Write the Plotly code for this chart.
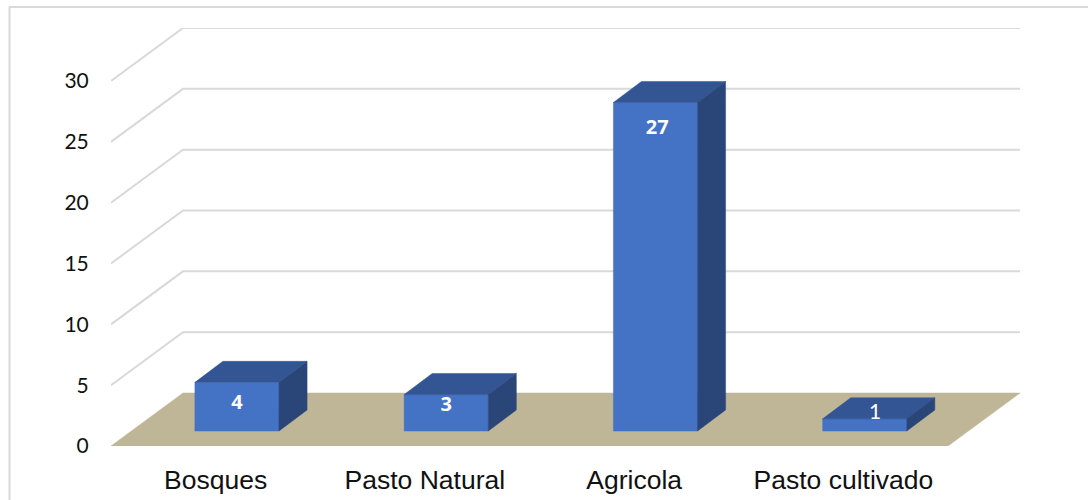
import plotly.graph_objects as go

categories = ["Bosques", "Pasto Natural", "Agricola", "Pasto cultivado"]
values = [4, 3, 27, 1]
y_ticks = [0, 5, 10, 15, 20, 25, 30]
label_bold = [True, True, True, False]
label_drop = [1.8, 0.95, 2.15, -0.45]   # label centre below bar top, in value units
label_shift = [0.0, 0.0, 0.008, 0.05]   # label centre right of bar centre, in category units

# pseudo-3D projection, in axis units
WALL_DX, WALL_DY = 0.344, 4.355
BAR_W = 0.402
BAR_DX, BAR_DY = 0.134, 1.73
BAR_SHIFT, BAR_LIFT = 0.102, 1.23

FRONT, TOP, SIDE = "#4472c4", "#335593", "#2a4679"
GRID, FLOOR = "#d9d9d9", "#bfb698"

fig = go.Figure()


def poly(xs, ys, color):
    fig.add_trace(go.Scatter(x=xs, y=ys, mode="lines", fill="toself", fillcolor=color,
                             line=dict(color=color, width=0.5), hoverinfo="skip", showlegend=False))


n = len(categories)
x0, x1 = -0.5, n - 0.5
poly([x0, x1, x1 + WALL_DX, x0 + WALL_DX, x0], [0, 0, WALL_DY, WALL_DY, 0], FLOOR)

for t in y_ticks[1:]:
    fig.add_trace(go.Scatter(x=[x0, x0 + WALL_DX, x1 + WALL_DX], y=[t, t + WALL_DY, t + WALL_DY],
                             mode="lines", line=dict(color=GRID, width=2),
                             hoverinfo="skip", showlegend=False))

for i, v in enumerate(values):
    l = i + BAR_SHIFT - BAR_W / 2
    r = l + BAR_W
    b = BAR_LIFT
    t = BAR_LIFT + v
    poly([l, r, r, l, l], [b, b, t, t, b], FRONT)
    poly([l, r, r + BAR_DX, l + BAR_DX, l], [t, t, t + BAR_DY, t + BAR_DY, t], TOP)
    poly([r, r + BAR_DX, r + BAR_DX, r, r], [b, b + BAR_DY, t + BAR_DY, t, b], SIDE)
    txt = f"<b>{v}</b>" if label_bold[i] else str(v)
    fig.add_trace(go.Scatter(x=[i + BAR_SHIFT + label_shift[i]], y=[t - label_drop[i]], mode="text", text=[txt],
                             textposition="middle center",
                             textfont=dict(family="Open Sans" if label_bold[i] else "Lato",
                                           size=20 if label_bold[i] else 21, color="white"),
                             hoverinfo="skip", showlegend=False))

PX_W, PX_H = 909, 418
fig.update_layout(
    width=1088, height=500, autosize=False,
    margin=dict(l=111, r=68, t=28, b=54, pad=0),
    paper_bgcolor="white", plot_bgcolor="white",
    xaxis=dict(range=[x0, x1 + WALL_DX], tickmode="array", tickvals=list(range(n)), ticktext=categories,
               automargin=False, showgrid=False, zeroline=False, showline=False, ticks="outside", ticklen=10,
               tickcolor="rgba(0,0,0,0)", tickfont=dict(family="Liberation Sans", size=26.5, color="#111111")),
    yaxis=dict(range=[0, 30 + WALL_DY], tickmode="array", tickvals=y_ticks, ticktext=[str(t) for t in y_ticks],
               automargin=False, showgrid=False, zeroline=False, showline=False, ticks="outside", ticklen=17,
               tickcolor="rgba(0,0,0,0)", tickfont=dict(family="Lato", size=21, color="#111111")),
    shapes=[
        dict(type="line", xref="paper", yref="paper", x0=(9 - 111) / PX_W, x1=(1088 - 111) / PX_W,
             y0=(446 - 7) / PX_H, y1=(446 - 7) / PX_H, line=dict(color=GRID, width=2)),
        dict(type="line", xref="paper", yref="paper", x0=(9.5 - 111) / PX_W, x1=(9.5 - 111) / PX_W,
             y0=(446 - 500) / PX_H, y1=(446 - 7) / PX_H, line=dict(color=GRID, width=2)),
    ],
)
fig.write_html("out.html", config={"displayModeBar": False}, post_script="document.body.style.margin='0';")
